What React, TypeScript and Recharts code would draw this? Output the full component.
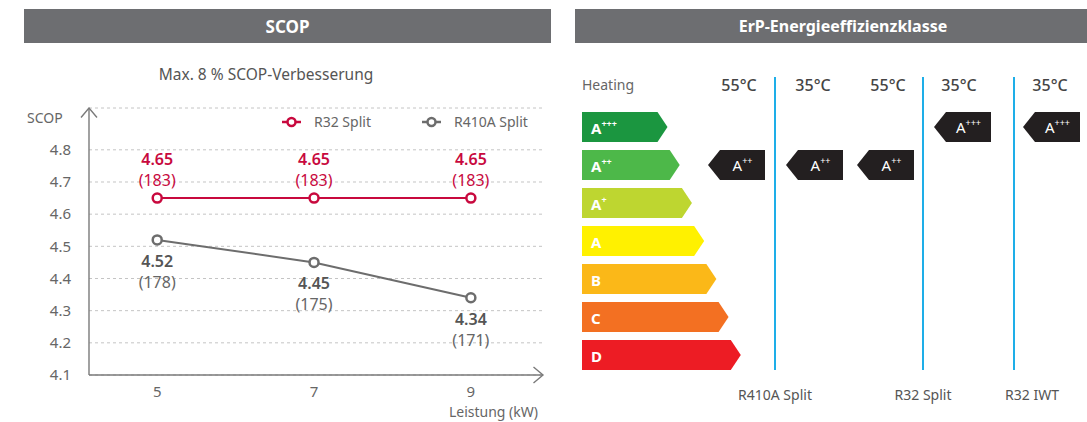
import { LineChart, Line, XAxis, YAxis, CartesianGrid, Legend, LabelList, Label, BarChart, Bar } from 'recharts';

// SCOP chart data
const POWER_KW = [5, 7, 9];
const R32_SCOP = [4.65, 4.65, 4.65];
const R32_ETA = [183, 183, 183];
const R410A_SCOP = [4.52, 4.45, 4.34];
const R410A_ETA = [178, 175, 171];
const SCOP_TICKS = [4.1, 4.2, 4.3, 4.4, 4.5, 4.6, 4.7, 4.8];

// energy class data
const ENERGY_CLASSES = ['A+++', 'A++', 'A+', 'A', 'B', 'C', 'D'];
const CLASS_STEPS = [7, 8, 9, 10, 11, 12, 13];
const COLUMN_TEMPS = ['55°C', '35°C', '55°C', '35°C', '35°C'];
const COLUMN_RATINGS = ['A++', 'A++', 'A++', 'A+++', 'A+++'];
const PRODUCTS = ['R410A Split', 'R32 Split', 'R32 IWT'];

const RED = '#c8093e';
const GRAY = '#6d6d6d';
const AXIS = '#7a7a7a';
const HEADER_BG = '#6d6e71';
const BLUE = '#1eaee8';
const BADGE = '#231f20';
const CLASS_COLORS = ['#1b9640', '#4db849', '#bed630', '#fff100', '#fbb818', '#f37022', '#ed1c24'];
const FONT = '"Noto Sans", sans-serif';

// layout of the class table (pixels in the page)
const ROWS_TOP = 108;
const ROWS_HEIGHT = 266;
const COLUMN_LEFT = [708, 786, 857, 934, 1023];
const COLUMN_CENTER = [739, 813, 888, 959, 1050];
const DIVIDER_X = [775, 923, 1014];
const PRODUCT_CENTER = [775, 923, 1032];

const scopData = POWER_KW.map((kw, i) => ({
    kw,
    r32: R32_SCOP[i],
    r410: R410A_SCOP[i],
}));

const classData = ENERGY_CLASSES.map((cls, i) => ({ cls, step: CLASS_STEPS[i] }));

function ScopLabel(props: any, eta: number[], color: string, parenColor: string, above: boolean) {
    const { x, y, index, value } = props;
    if (x == null || y == null) return null;
    const vy = above ? y - 39 : y + 21;
    const py = above ? y - 18 : y + 42;
    return (
        <g>
            <text x={x} y={vy} textAnchor="middle" dominantBaseline="central" fontSize={16} fontWeight={600} fill={color} fontFamily={FONT}>
                {Number(value).toFixed(2)}
            </text>
            <text x={x} y={py} textAnchor="middle" dominantBaseline="central" fontSize={16} fill={parenColor} fontFamily={FONT}>
                ({eta[index]})
            </text>
        </g>
    );
}

function LegendContent({ payload }: any) {
    return (
        <div style={{ display: 'flex', gap: 51, fontSize: 14, color: '#666', fontFamily: FONT }}>
            {(payload || []).map((p: any) => (
                <span key={p.value} style={{ display: 'flex', alignItems: 'center', gap: 13 }}>
                    <svg width={19} height={12}>
                        <line x1={0} x2={19} y1={6} y2={6} stroke={p.color} strokeWidth={2.5} />
                        <circle cx={9.5} cy={6} r={4} fill="#fff" stroke={p.color} strokeWidth={2.5} />
                    </svg>
                    {p.value}
                </span>
            ))}
        </div>
    );
}

function splitClass(cls: string) {
    return [cls.slice(0, 1), cls.slice(1)];
}

function ClassArrow(props: any) {
    const { x, y, width, height, index } = props;
    if (!width || width <= 0) return null;
    const tip = 10;
    const pts = `${x},${y} ${x + width - tip},${y} ${x + width},${y + height / 2} ${x + width - tip},${y + height} ${x},${y + height}`;
    return <polygon points={pts} fill={CLASS_COLORS[index % CLASS_COLORS.length]} />;
}

function ClassLabel(props: any) {
    const vb = props.viewBox || props;
    const { x, y, height } = vb;
    const [base, sup] = splitClass(String(props.value));
    return (
        <text x={x + 9} y={y + height / 2 + 6.5} fill="#fff" fontSize={15} fontWeight={700} fontFamily={FONT}>
            {base}
            {sup && <tspan dy={-7} fontSize={9}>{sup}</tspan>}
        </text>
    );
}

function Badge(props: any) {
    const { x, y, width, height, payload } = props;
    if (!width || width <= 0) return null;
    const tip = 12;
    const pts = `${x + tip},${y} ${x + width},${y} ${x + width},${y + height} ${x + tip},${y + height} ${x},${y + height / 2}`;
    const [base, sup] = splitClass(payload.cls);
    return (
        <g>
            <polygon points={pts} fill={BADGE} />
            <text x={x + tip + (width - tip) / 2} y={y + height / 2 + 6} textAnchor="middle" fill="#fff" fontSize={15} fontFamily={FONT}>
                {base}
                <tspan dy={-7} fontSize={9}>{sup}</tspan>
            </text>
        </g>
    );
}

function ScopChart() {
    return (
        <LineChart width={560} height={422} data={scopData} margin={{ top: 108, right: 17, bottom: 0, left: 0 }}>
            <CartesianGrid vertical={false} stroke="#c4c4c4" strokeDasharray="3 3" />
            <XAxis
                dataKey="kw"
                type="number"
                domain={[4.13, 9.92]}
                ticks={POWER_KW}
                height={47}
                tickLine={false}
                tickSize={6}
                tickMargin={5}
                tick={{ fill: '#666', fontSize: 15, fontFamily: FONT }}
                axisLine={{ stroke: AXIS, strokeWidth: 1.4, markerEnd: 'url(#axisArrow)' }}
            >
                <Label value="Leistung (kW)" position="insideBottomRight" offset={5} fill="#666" fontSize={14} fontFamily={FONT} />
            </XAxis>
            <YAxis
                type="number"
                domain={[4.1, 4.93]}
                ticks={SCOP_TICKS}
                width={89}
                tickLine={false}
                tickSize={6}
                tickMargin={12}
                tickFormatter={(v: number) => v.toFixed(1)}
                tick={{ fill: '#666', fontSize: 15, fontFamily: FONT }}
                axisLine={{ stroke: AXIS, strokeWidth: 1.4, markerStart: 'url(#axisArrow)' }}
            >
                <Label
                    content={({ viewBox }: any) => (
                        <text x={viewBox.x + 27} y={viewBox.y + 9} dominantBaseline="central" fill="#666" fontSize={14} fontFamily={FONT}>
                            SCOP
                        </text>
                    )}
                />
            </YAxis>
            <Legend
                layout="horizontal"
                verticalAlign="middle"
                align="center"
                content={<LegendContent />}
                wrapperStyle={{ top: 112, left: 282, width: 270 }}
            />
            <Line
                name="R32 Split"
                dataKey="r32"
                stroke={RED}
                strokeWidth={2}
                dot={{ r: 4.5, fill: '#fff', stroke: RED, strokeWidth: 2.5 }}
                isAnimationActive={false}
            >
                <LabelList dataKey="r32" content={(p: any) => ScopLabel(p, R32_ETA, RED, RED, true)} />
            </Line>
            <Line
                name="R410A Split"
                dataKey="r410"
                stroke={GRAY}
                strokeWidth={2}
                dot={{ r: 4.5, fill: '#fff', stroke: GRAY, strokeWidth: 2.5 }}
                isAnimationActive={false}
            >
                <LabelList dataKey="r410" content={(p: any) => ScopLabel(p, R410A_ETA, '#555', '#666', false)} />
            </Line>
        </LineChart>
    );
}

function ClassChart() {
    return (
        <BarChart width={171} height={ROWS_HEIGHT} data={classData} layout="vertical" margin={{ top: 0, right: 0, bottom: 0, left: 0 }}>
            <XAxis type="number" domain={[0, 14]} hide />
            <YAxis type="category" dataKey="cls" hide />
            <Bar dataKey="step" barSize={30} shape={<ClassArrow />} isAnimationActive={false}>
                <LabelList dataKey="cls" content={<ClassLabel />} />
            </Bar>
        </BarChart>
    );
}

function RatingColumn({ rating }: { rating: string }) {
    const data = ENERGY_CLASSES.map((cls) => ({ cls, v: cls === rating ? 1 : null }));
    return (
        <BarChart width={57} height={ROWS_HEIGHT} data={data} layout="vertical" margin={{ top: 0, right: 0, bottom: 0, left: 0 }}>
            <XAxis type="number" domain={[0, 1]} hide />
            <YAxis type="category" dataKey="cls" hide />
            <Bar dataKey="v" barSize={30} shape={<Badge />} isAnimationActive={false} />
        </BarChart>
    );
}

export default function App() {
    return (
        <div style={{ position: 'absolute', left: 0, top: 0, width: 1087, height: 422, overflow: 'hidden', background: '#fff', fontFamily: FONT }}>
            <svg width={0} height={0} style={{ position: 'absolute' }}>
                <defs>
                    <marker id="axisArrow" viewBox="0 0 12 18" refX={10.5} refY={9} markerWidth={12} markerHeight={18} markerUnits="userSpaceOnUse" orient="auto-start-reverse">
                        <path d="M1,1 L10.5,9 L1,17" fill="none" stroke={AXIS} strokeWidth={1.4} />
                    </marker>
                </defs>
            </svg>

            {/* left: SCOP */}
            <div style={{ position: 'absolute', left: 24, top: 9, width: 527, height: 34, background: HEADER_BG, color: '#fff', fontWeight: 700, fontSize: 17, display: 'flex', alignItems: 'center', justifyContent: 'center' }}>
                SCOP
            </div>
            <div style={{ position: 'absolute', left: 116, top: 64, width: 300, lineHeight: '20px', textAlign: 'center', fontSize: 15.5, color: '#555' }}>
                Max. 8 % SCOP-Verbesserung
            </div>
            <div style={{ position: 'absolute', left: 0, top: 0 }}>
                <ScopChart />
            </div>

            {/* right: ErP energy class */}
            <div style={{ position: 'absolute', left: 575, top: 9, width: 536, height: 34, background: HEADER_BG, color: '#fff', fontWeight: 700, fontSize: 16, display: 'flex', alignItems: 'center', justifyContent: 'center' }}>
                ErP-Energieeffizienzklasse
            </div>
            <div style={{ position: 'absolute', left: 582, top: 74, lineHeight: '22px', fontSize: 14, color: '#666' }}>Heating</div>
            {COLUMN_TEMPS.map((t, i) => (
                <div key={i} style={{ position: 'absolute', left: COLUMN_CENTER[i] - 40, width: 80, top: 74, lineHeight: '22px', textAlign: 'center', fontSize: 16, fontWeight: 500, color: '#444' }}>
                    {t}
                </div>
            ))}
            {DIVIDER_X.map((x, i) => (
                <div key={i} style={{ position: 'absolute', left: x - 1, top: 77, width: 2, height: 293, background: BLUE }} />
            ))}
            <div style={{ position: 'absolute', left: 582, top: ROWS_TOP }}>
                <ClassChart />
            </div>
            {COLUMN_RATINGS.map((r, i) => (
                <div key={i} style={{ position: 'absolute', left: COLUMN_LEFT[i], top: ROWS_TOP }}>
                    <RatingColumn rating={r} />
                </div>
            ))}
            {PRODUCTS.map((p, i) => (
                <div key={p} style={{ position: 'absolute', left: PRODUCT_CENTER[i] - 60, width: 120, top: 384, lineHeight: '22px', textAlign: 'center', fontSize: 14, color: '#555' }}>
                    {p}
                </div>
            ))}
        </div>
    );
}
